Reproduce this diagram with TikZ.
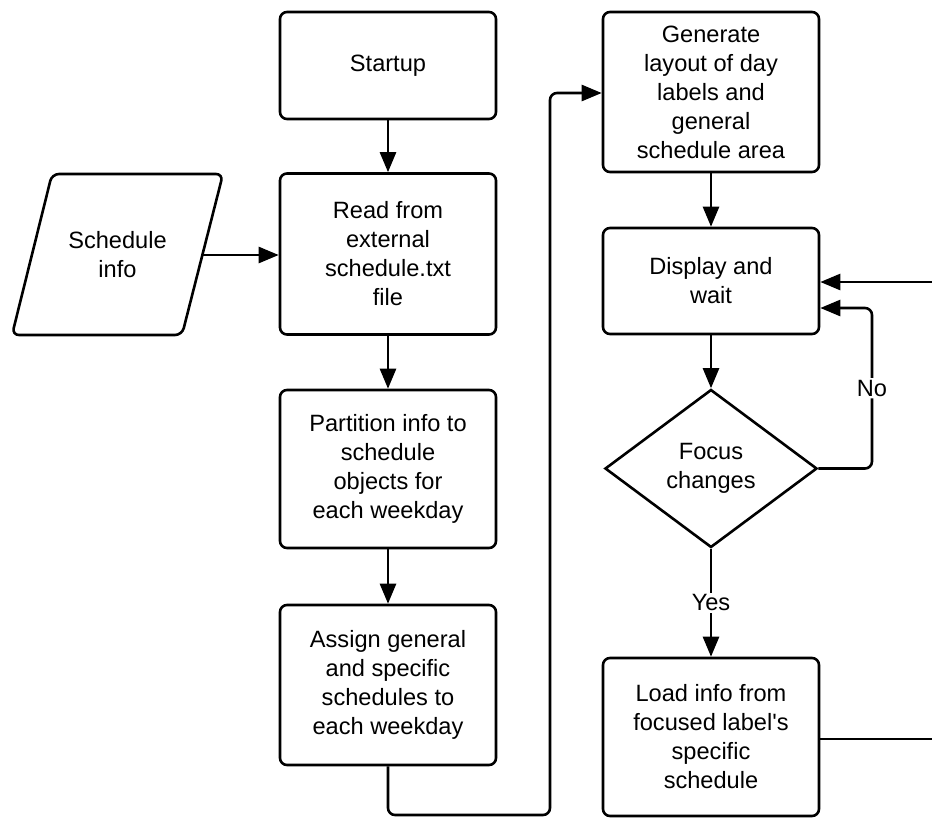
\documentclass[tikz,border=0pt]{standalone}
\usepackage{fontspec}
\setmainfont{Liberation Sans}
\usetikzlibrary{arrows.meta,shapes.geometric}
\begin{document}
\begin{tikzpicture}[x=1pt,y=-1pt,
  every node/.style={font=\fontsize{23.6}{29}\selectfont},
  box/.style={draw,line width=2.6pt,rounded corners=7pt,minimum width=216pt,align=center,inner sep=0pt},
  arr/.style={line width=2.6pt,-{Triangle[length=20pt,width=16pt]}},
  ln/.style={line width=2.6pt,rounded corners=7pt},
  lbl/.style={fill=white,inner sep=2pt}]
\useasboundingbox (0,0) rectangle (932,817);
\node[box,minimum height=107pt] (startup) at (388,65.5) {Startup};
\node[box,minimum height=161pt] (read) at (388,254) {Read from\\external\\schedule.txt\\file};
\node[box,minimum height=158pt] (part) at (388,469) {Partition info to\\schedule\\objects for\\each weekday};
\node[box,minimum height=160pt] (assign) at (388,685) {Assign general\\and specific\\schedules to\\each weekday};
\draw[ln] (52,174) -- (223,174) -- (182,335) -- (12,335) -- cycle;
\node[align=center,inner sep=0pt] (sched) at (117.5,254.5) {Schedule\\info};
\coordinate (schedE) at (203,255);
\node[box,minimum height=160pt] (gen) at (711,92) {Generate\\layout of day\\labels and\\general\\schedule area};
\node[box,minimum height=106pt] (disp) at (711,281) {Display and\\wait};
\node[draw,line width=2.6pt,diamond,minimum width=212pt,minimum height=158pt,aspect=1.34,inner sep=0pt,align=center] (focus) at (711,468.5) {Focus\\changes};
\node[box,minimum height=158pt] (load) at (711,737) {Load info from\\focused label\textquotesingle s\\specific\\schedule};
\coordinate (inR) at (932,282);
\coordinate (outR) at (932,739);
\draw[arr] (startup) -- (read);
\draw[arr] (read) -- (part);
\draw[arr] (part) -- (assign);
\draw[arr] (schedE) -- (schedE -| read.west);
\draw[arr] (gen) -- (disp);
\draw[arr] (disp) -- (focus);
\draw[arr] (focus) -- node[lbl,pos=0.5] {Yes} (load);
\draw[arr,rounded corners=7pt] (focus.east) -- (872,468.5) -- node[lbl,pos=0.5] {No} (872,308) -- (disp.east |- 0,308);
\draw[arr] (inR) -- (inR -| disp.east);
\draw[ln] (load.east |- outR) -- (outR);
\draw[arr,rounded corners=7pt] (assign.south) -- (388,815) -- (550,815) -- (550,93) -- (gen.west |- 0,93);
\end{tikzpicture}
\end{document}
